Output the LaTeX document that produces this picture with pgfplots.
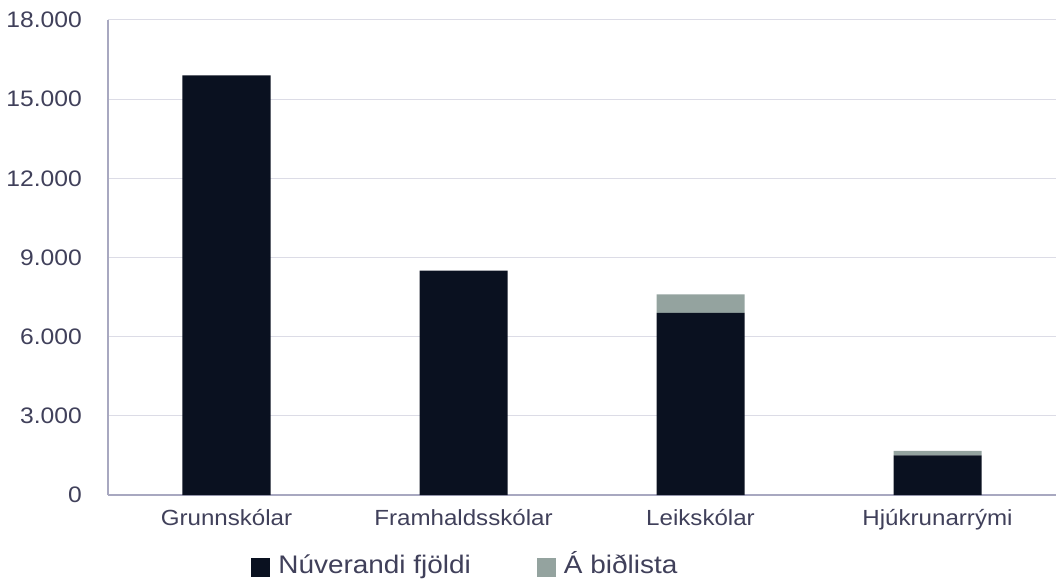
\documentclass[border=0pt]{standalone}
\usepackage{fontspec}
\setmainfont[FakeStretch=1.1]{Liberation Sans}
\usepackage{pgfplots}
\pgfplotsset{compat=1.18}
\definecolor{dark}{HTML}{0A1120}
\definecolor{wait}{HTML}{94A39F}
\definecolor{txt}{HTML}{40405A}
\definecolor{axl}{HTML}{A8A8C0}
\definecolor{grd}{HTML}{DCDCE6}
\begin{document}
\begin{tikzpicture}
\begin{axis}[name=ax,
  scale only axis, width=948bp, height=475bp,
  ybar stacked, bar width=88bp,
  xmin=-0.5, xmax=3.5, ymin=0, ymax=18000,
  xtick={0,1,2,3},
  xticklabels={Grunnskólar,Framhaldsskólar,Leikskólar,Hjúkrunarrými},
  ytick={0,3000,...,18000},
  scaled y ticks=false,
  axis x line*=bottom, axis y line*=left,
  axis line style={axl, line width=1.2bp, -},
  ymajorgrids, grid style={grd, line width=1bp},
  major tick length=0pt,
  yticklabel={\pgfmathprintnumber[fixed, precision=0, 1000 sep={.}, assume math mode=true]{\tick}},
  yticklabel style={font=\fontsize{22.5}{27}\selectfont, text=txt, anchor=east, inner sep=0pt, xshift=-26bp},
  xticklabel style={font=\fontsize{22}{26}\selectfont, text=txt, anchor=north, inner sep=0pt, yshift=-14bp},
  legend style={at={(0.151,-0.1516)}, anchor=west, draw=none, fill=none, legend columns=2,
    font=\fontsize{25.5}{30}\selectfont, text=txt, inner sep=0pt,
    nodes={inner sep=0pt, text height=18bp, text depth=5bp},
    column sep=8bp,
    /tikz/every even column/.append style={column sep=66bp}},
  legend image code/.code={\fill[#1] (0bp,-9.5bp) rectangle (19bp,9.5bp);},
]
\addplot[fill=dark, draw=none] coordinates {(0,15900) (1,8500) (2,6900) (3,1500)};
\addplot[fill=wait, draw=none] coordinates {(0,0) (1,0) (2,700) (3,170)};
\legend{Núverandi fjöldi, Á biðlista}
\end{axis}
\pgfresetboundingbox
\path ([xshift=-108bp, yshift=-91bp]ax.south west) rectangle ([yshift=20bp]ax.north east);
\end{tikzpicture}
\end{document}
